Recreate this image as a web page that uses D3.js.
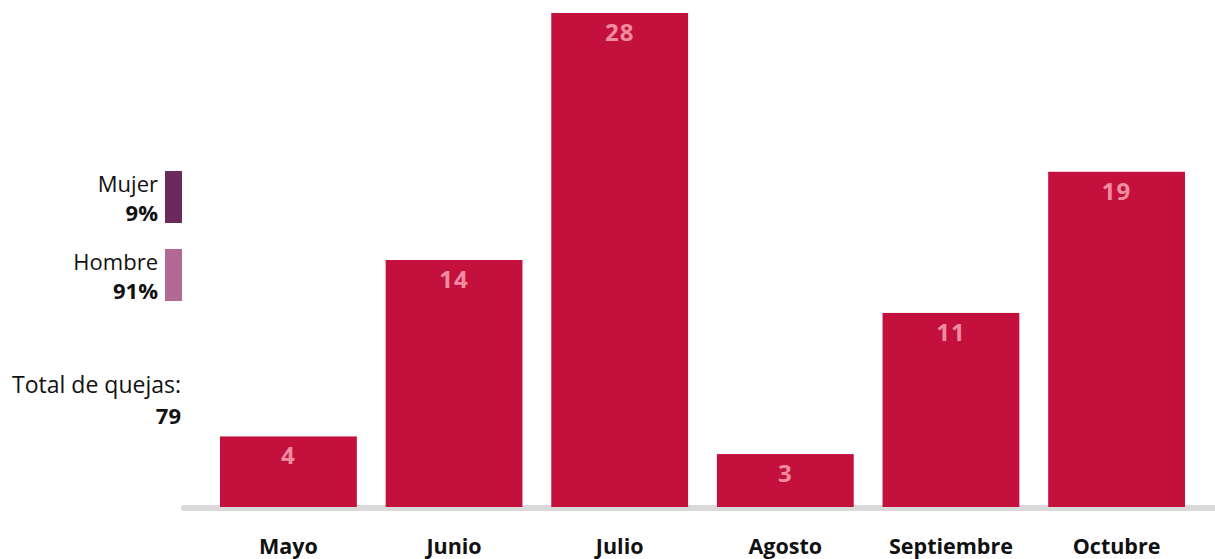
<!DOCTYPE html>
<html>
<head>
<meta charset="utf-8">
<script src="https://cdn.jsdelivr.net/npm/d3@7"></script>
<style>
  html, body { margin: 0; padding: 0; background: #fff; }
  svg { display: block; font-family: "Open Sans", "Noto Sans", sans-serif; }
</style>
</head>
<body>
<svg id="chart" width="1215" height="559"></svg>
<script>
// Monthly complaints
const months = ["Mayo", "Junio", "Julio", "Agosto", "Septiembre", "Octubre"];
const complaints = [4, 14, 28, 3, 11, 19];

// Gender split
const genderLabels = ["Mujer", "Hombre"];
const genderShares = ["9%", "91%"];
const genderColors = ["#6b2a5e", "#b06a93"];

const totalLabel = "Total de quejas:";
const totalValue = 79;

const svg = d3.select("#chart");
const baseline = 507;

const x = d3.scaleBand()
  .domain(months)
  .range([205.6, 1199.4])
  .paddingInner(0.174)
  .paddingOuter(0.087);

const y = d3.scaleLinear()
  .domain([0, 28])
  .range([baseline, 13]);

// Baseline rule
svg.append("line")
  .attr("x1", 184).attr("x2", 1215)
  .attr("y1", 508).attr("y2", 508)
  .attr("stroke", "#d9d9d9")
  .attr("stroke-width", 6)
  .attr("stroke-linecap", "round");

// Bars
svg.append("g").selectAll("rect")
  .data(complaints)
  .join("rect")
  .attr("x", (d, i) => x(months[i]))
  .attr("width", x.bandwidth())
  .attr("y", d => y(d))
  .attr("height", d => baseline - y(d))
  .attr("fill", "#c4103c");

// Value labels inside bars
svg.append("g").selectAll("text")
  .data(complaints)
  .join("text")
  .attr("x", (d, i) => x(months[i]) + x.bandwidth() / 2)
  .attr("y", d => y(d) + 28)
  .attr("text-anchor", "middle")
  .attr("fill", "#f08ca0")
  .attr("font-weight", 700)
  .attr("font-size", 24)
  .attr("letter-spacing", 1)
  .text(d => d);

// Month axis
const xAxis = svg.append("g")
  .attr("transform", `translate(0,${baseline})`)
  .call(d3.axisBottom(x).tickSize(0).tickPadding(0));
xAxis.select(".domain").remove();
xAxis.selectAll("text")
  .attr("dy", null)
  .attr("y", 47)
  .attr("fill", "#111")
  .attr("font-weight", 700)
  .attr("font-size", 21.5)
  .attr("font-family", "\"Open Sans\", \"Noto Sans\", sans-serif");

// Gender legend
const legend = svg.append("g");
genderLabels.forEach((label, i) => {
  const top = 171 + i * 78;
  legend.append("rect")
    .attr("x", 165).attr("y", top)
    .attr("width", 17).attr("height", 52)
    .attr("fill", genderColors[i]);
  legend.append("text")
    .attr("x", 158).attr("y", top + 21)
    .attr("text-anchor", "end")
    .attr("font-size", 22)
    .attr("fill", "#111")
    .text(label);
  legend.append("text")
    .attr("x", 158).attr("y", top + 50)
    .attr("text-anchor", "end")
    .attr("font-size", 22)
    .attr("font-weight", 700)
    .attr("fill", "#111")
    .text(genderShares[i]);
});

// Total
svg.append("text")
  .attr("x", 181).attr("y", 393)
  .attr("text-anchor", "end")
  .attr("font-size", 23)
  .attr("fill", "#111")
  .text(totalLabel);
svg.append("text")
  .attr("x", 181).attr("y", 424)
  .attr("text-anchor", "end")
  .attr("font-size", 22)
  .attr("font-weight", 700)
  .attr("fill", "#111")
  .text(totalValue);
</script>
</body>
</html>
